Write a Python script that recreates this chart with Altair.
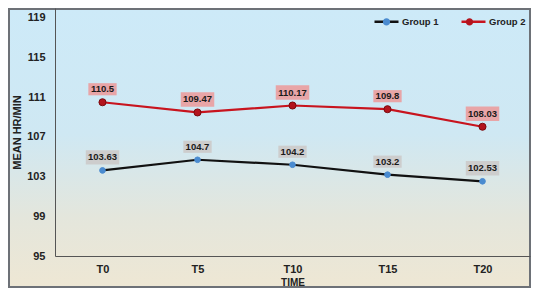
import altair as alt
import pandas as pd

times = ["T0", "T5", "T10", "T15", "T20"]
groups = ["Group 1", "Group 2"]
group1 = [103.63, 104.7, 104.2, 103.2, 102.53]
group2 = [110.5, 109.47, 110.17, 109.8, 108.03]
y_ticks = [95, 99, 103, 107, 111, 115, 119]

rows = []
for g, vals in zip(groups, [group1, group2]):
    for t, v in zip(times, vals):
        rows.append({"time": t, "group": g, "series": g, "value": v, "label": f"{v:g}"})
df = pd.DataFrame(rows)

FONT = "Liberation Sans"
CIRCLE = "M0.3,0A0.3,0.3 0 1,1 -0.3,0A0.3,0.3 0 1,1 0.3,0Z"

bg = alt.Chart(pd.DataFrame({"a": [0]})).mark_rect(
    fill=alt.Gradient(
        gradient="linear",
        stops=[
            alt.GradientStop(color="#cdeaf8", offset=0),
            alt.GradientStop(color="#cfe8f3", offset=0.45),
            alt.GradientStop(color="#e4e6dc", offset=0.75),
            alt.GradientStop(color="#eee7d4", offset=1),
        ],
        x1=0, x2=0, y1=0, y2=1,
    ),
    stroke="#6d7177",
    strokeWidth=2,
).encode(x=alt.value(-46), x2=alt.value(475), y=alt.value(1), y2=alt.value(279))

x_enc = alt.X(
    "time:N",
    sort=times,
    scale=alt.Scale(type="point", padding=0.5),
    axis=alt.Axis(
        title="TIME", labelAngle=0, ticks=False, domainColor="#555555",
        labelFont=FONT, labelFontSize=11, labelFontWeight="bold", labelColor="#222222",
        labelPadding=7, titleFont=FONT, titleFontSize=10, titleFontWeight="bold",
        titleColor="#222222", titleY=26, titleBaseline="middle", zindex=1,
    ),
)
y_enc = alt.Y(
    "value:Q",
    scale=alt.Scale(domain=[95, 120], nice=False, zero=False),
    axis=alt.Axis(
        values=y_ticks, title="MEAN HR/MIN", ticks=False, grid=False,
        domainColor="#555555", labelFont=FONT, labelFontSize=11,
        labelFontWeight="bold", labelColor="#222222", labelPadding=10,
        titleFont=FONT, titleFontSize=11, titleFontWeight="bold", titleColor="#222222",
        titleX=-38, titleY=124, titleAlign="center", titleBaseline="middle", zindex=1,
    ),
)

base = alt.Chart(df).encode(x=x_enc, y=y_enc)

legend_common = dict(
    title=None, orient="none", legendX=318, legendY=0, direction="horizontal",
    symbolSize=576, symbolStrokeWidth=2.5, labelFont=FONT, labelFontSize=9.5,
    labelFontWeight="bold", labelColor="#222222", labelOffset=2, columnPadding=17,
    padding=0,
)

line = base.mark_line(strokeWidth=2.2).encode(
    color=alt.Color(
        "group:N",
        scale=alt.Scale(domain=groups, range=["#111111", "#c8141e"]),
        legend=alt.Legend(symbolType="M-1,0H1", zindex=1, **legend_common),
    )
)

points = base.mark_point(filled=True, opacity=1, strokeWidth=1).encode(
    fill=alt.Fill(
        "series:N",
        sort=groups,
        scale=alt.Scale(range=["#4a8bd0", "#b3141d"]),
        legend=alt.Legend(symbolType=CIRCLE, symbolStrokeColor="transparent",
                          labelOpacity=0, zindex=2, **legend_common),
    ),
    stroke=alt.condition(alt.datum.group == "Group 2", alt.value("#7a0a0e"), alt.value("#4a8bd0")),
    size=alt.condition(alt.datum.group == "Group 2", alt.value(50), alt.value(32)),
)

boxes = base.mark_point(
    shape="M-1,-0.43H1V0.43H-1Z", filled=True, opacity=1, strokeWidth=0, yOffset=-13
).transform_calculate(
    bs="pow((length(datum.label) - 1) * 5.2 + 7.5, 2)"
).encode(
    size=alt.Size("bs:Q", scale=None, legend=None),
    fill=alt.condition(alt.datum.group == "Group 2", alt.value("#e8a5a7"), alt.value("#cdcdcd")),
)

texts = base.mark_text(
    yOffset=-13, font=FONT, fontSize=9.5, fontWeight="bold", color="#1a1a1a", baseline="middle"
).encode(text="label:N")

chart = alt.layer(bg, line, points, boxes, texts).properties(
    width=475, height=248,
    autosize=alt.AutoSizeParams(type="none"),
    padding={"left": 47, "top": 0, "right": 1, "bottom": 32},
).configure_view(stroke=None)

chart.save("out.html", embed_options={"renderer": "svg", "actions": False})
